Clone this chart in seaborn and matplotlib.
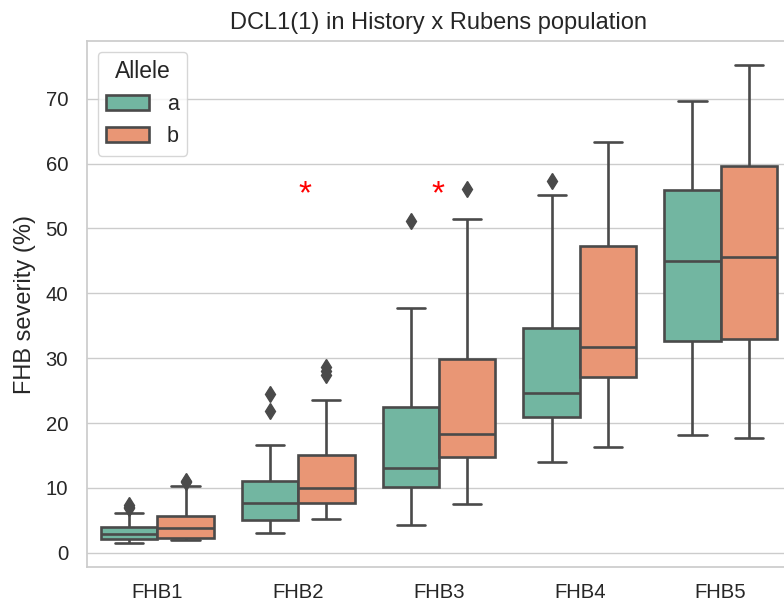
import numpy as np
import pandas as pd
import matplotlib
matplotlib.use("Agg")
import matplotlib.pyplot as plt
import seaborn as sns

# ---- data (box statistics per trait and allele) ----
categories = ["FHB1", "FHB2", "FHB3", "FHB4", "FHB5"]
alleles = ["a", "b"]

a_whisker_low = [1.55, 3.1, 4.2, 14.0, 18.1]
a_q1 = [2.1, 5.1, 10.2, 20.9, 32.6]
a_median = [2.9, 7.6, 13.0, 24.6, 45.0]
a_q3 = [3.9, 11.1, 22.4, 34.7, 56.0]
a_whisker_high = [6.2, 16.6, 37.8, 55.2, 69.6]
a_outliers = [[6.9, 7.1, 7.3], [21.8, 24.4], [51.2], [57.3], []]

b_whisker_low = [2.0, 5.2, 7.5, 16.3, 17.7]
b_q1 = [2.25, 7.6, 14.7, 27.1, 33.0]
b_median = [3.8, 10.0, 18.3, 31.7, 45.6]
b_q3 = [5.7, 15.05, 29.9, 47.3, 59.7]
b_whisker_high = [10.3, 23.5, 51.4, 63.4, 75.2]
b_outliers = [[10.9, 11.1], [27.4, 28.0, 28.7], [56.1], [], []]

significant = ["FHB2", "FHB3"]
star_level = 56.3

title = "DCL1(1) in History x Rubens population"
ylabel = "FHB severity (%)"
legend_title = "Allele"
yticks = [0, 10, 20, 30, 40, 50, 60, 70]

# ---- expand the box statistics into observations with exactly those quantiles ----
K = 4


def observations(lo, q1, med, q3, hi, out):
    vals = [lo] + [q1] * K + [med] * K + [q3] * K + [hi] * (K - len(out)) + list(out)
    return vals


stats = {
    "a": (a_whisker_low, a_q1, a_median, a_q3, a_whisker_high, a_outliers),
    "b": (b_whisker_low, b_q1, b_median, b_q3, b_whisker_high, b_outliers),
}
rows = []
for allele in alleles:
    lo, q1, med, q3, hi, out = stats[allele]
    for i, cat in enumerate(categories):
        for v in observations(lo[i], q1[i], med[i], q3[i], hi[i], out[i]):
            rows.append({"trait": cat, "Allele": allele, "severity": v})
df = pd.DataFrame(rows)

# ---- plot ----
sns.set_theme(style="whitegrid")
plt.rcParams["font.family"] = ["Liberation Sans", "DejaVu Sans"]

W, H = 784, 608
fig = plt.figure(figsize=(W / 100, H / 100), dpi=100)
ax = fig.add_axes([87 / W, 1 - 567 / H, (791 - 87) / W, (567 - 41) / H])

line_col = "#4a4a4a"
sns.boxplot(
    data=df, x="trait", y="severity", hue="Allele",
    order=categories, hue_order=alleles, palette="Set2",
    width=0.8, linewidth=1.9, linecolor=line_col,
    flierprops=dict(marker="d", markersize=8,
                    markerfacecolor=line_col, markeredgecolor=line_col),
    ax=ax,
)

ax.set_xlim(-0.5, 4.5)
ax.set_ylim(-2.2, 78.9)
ax.set_yticks(yticks)
ax.set_xlabel("")
ax.set_ylabel(ylabel, fontsize=17, labelpad=7, color="#262626")
ax.set_title(title, fontsize=17, pad=9, color="#262626")
ax.tick_params(axis="both", labelsize=14.6, length=0, colors="#262626")
ax.tick_params(axis="x", pad=11.5)
ax.tick_params(axis="y", pad=13.5)
ax.xaxis.grid(False)

star_dx = {1: 0.05, 2: -0.01}
for cat in significant:
    i = categories.index(cat)
    ax.text(i + star_dx.get(i, 0), star_level - 1.1, "*", color="red",
            fontsize=24, ha="center", va="center")

sns.move_legend(ax, "upper left", title=legend_title, fontsize=15.5,
                title_fontsize=16.5, frameon=True)

fig.savefig("out.png", dpi=100)
